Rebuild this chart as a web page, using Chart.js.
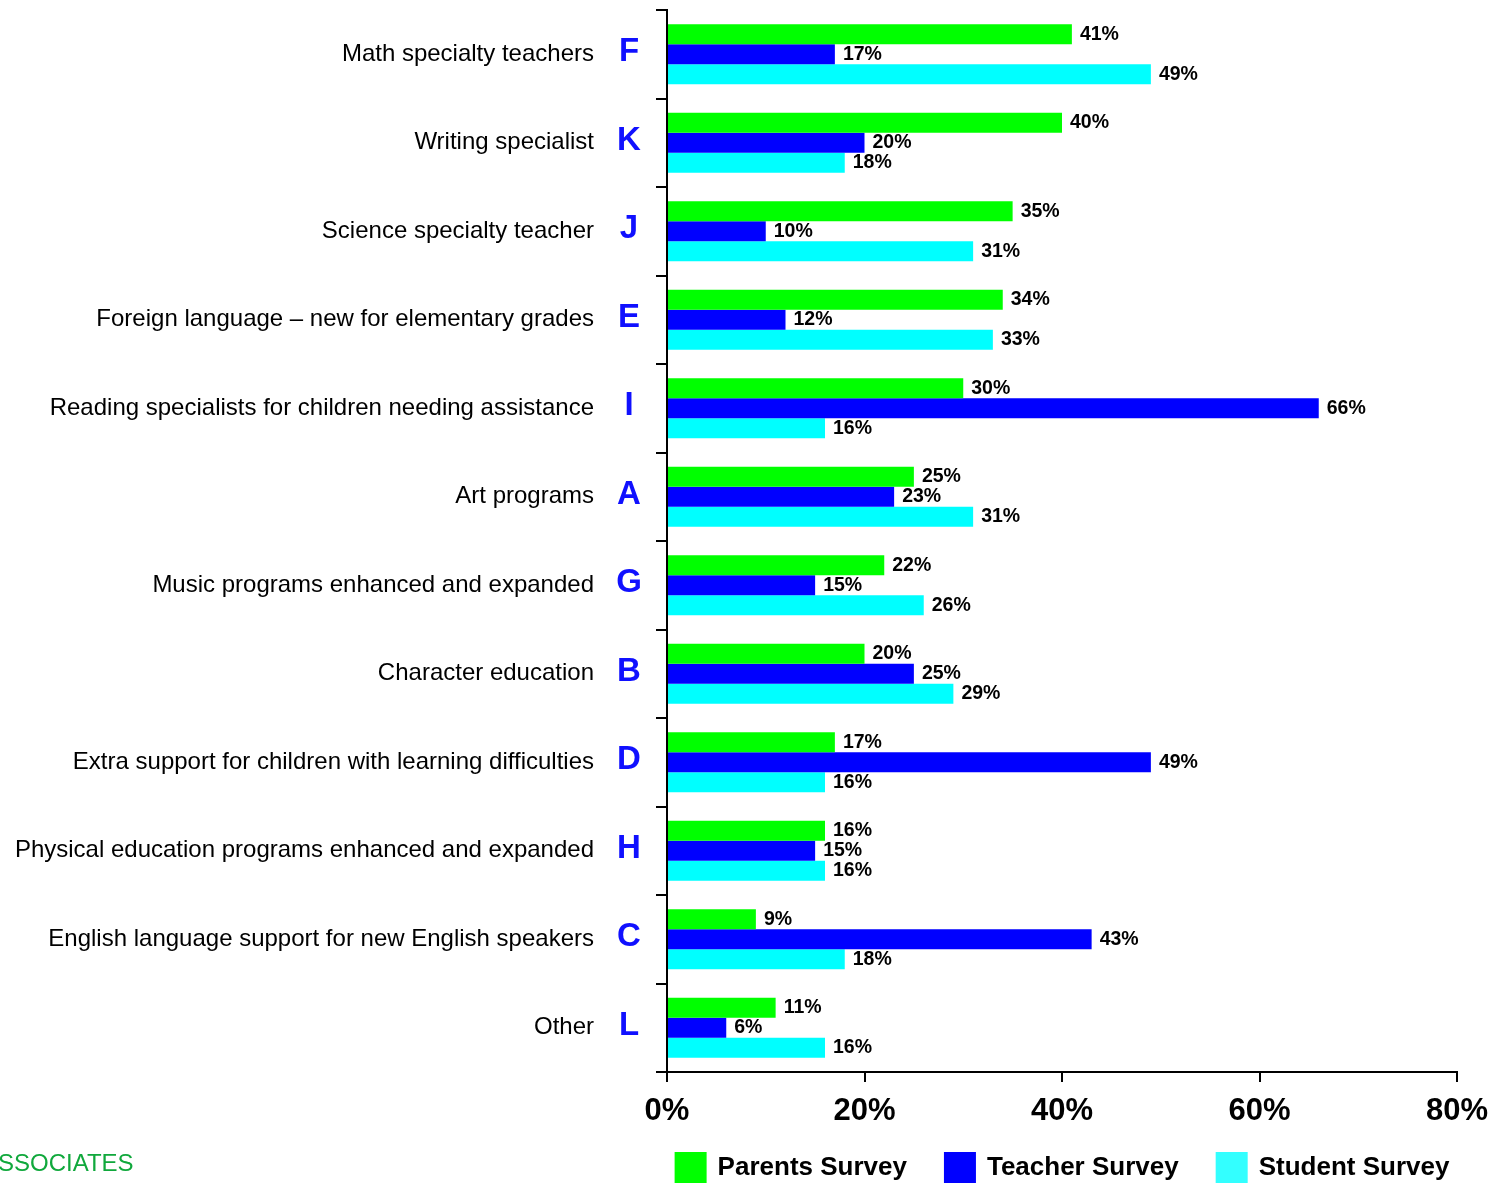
<!DOCTYPE html>
<html>
<head>
<meta charset="utf-8">
<script src="https://cdn.jsdelivr.net/npm/chart.js@4.4.1/dist/chart.umd.min.js"></script>
<style>
  html, body { margin: 0; padding: 0; background: #fff; }
  #wrap { width: 1507px; height: 1183px; }
</style>
</head>
<body>
<div id="wrap"><canvas id="surveyChart" width="1507" height="1183"></canvas></div>
<script>
const categories = [
    'Math specialty teachers',
    'Writing specialist',
    'Science specialty teacher',
    'Foreign language \u2013 new for elementary grades',
    'Reading specialists for children needing assistance',
    'Art programs',
    'Music programs enhanced and expanded',
    'Character education',
    'Extra support for children with learning difficulties',
    'Physical education programs enhanced and expanded',
    'English language support for new English speakers',
    'Other'
];
const codes = ['F', 'K', 'J', 'E', 'I', 'A', 'G', 'B', 'D', 'H', 'C', 'L'];
const seriesNames = ['Parents Survey', 'Teacher Survey', 'Student Survey'];
const parentsValues = [41, 40, 35, 34, 30, 25, 22, 20, 17, 16, 9, 11];
const teacherValues = [17, 20, 10, 12, 66, 23, 15, 25, 49, 15, 43, 6];
const studentValues = [49, 18, 31, 33, 16, 31, 26, 29, 16, 16, 18, 16];
const xTicks = [0, 20, 40, 60, 80];

const FONT = "'Liberation Sans', Arial, sans-serif";
Chart.defaults.font.family = FONT;

// blue letter codes next to the category names
const codeLetters = {
    id: 'codeLetters',
    afterDraw(chart) {
        const ctx = chart.ctx;
        const y = chart.scales.y;
        ctx.save();
        ctx.font = 'bold 33px ' + FONT;
        ctx.fillStyle = '#1010ff';
        ctx.textAlign = 'center';
        ctx.textBaseline = 'middle';
        codes.forEach((c, i) => {
            ctx.fillText(c, chart.chartArea.left - 38, y.getPixelForValue(i) - 2);
        });
        ctx.restore();
    }
};

// value labels at the end of each bar
const barValues = {
    id: 'barValues',
    afterDatasetsDraw(chart) {
        const ctx = chart.ctx;
        ctx.save();
        ctx.font = 'bold 19.5px ' + FONT;
        ctx.fillStyle = '#000';
        ctx.textAlign = 'left';
        ctx.textBaseline = 'middle';
        chart.data.datasets.forEach((ds, di) => {
            chart.getDatasetMeta(di).data.forEach((bar, i) => {
                ctx.fillText(ds.data[i] + '%', bar.x + 8, bar.y);
            });
        });
        ctx.restore();
    }
};

// legend under the axis, centred on the plot area
const bottomLegend = {
    id: 'bottomLegend',
    afterDraw(chart) {
        const ctx = chart.ctx;
        const area = chart.chartArea;
        const box = 32, gap = 11, spacing = 37;
        ctx.save();
        ctx.font = 'bold 26px ' + FONT;
        const widths = chart.data.datasets.map(ds => box + gap + ctx.measureText(ds.label).width);
        const total = widths.reduce((a, b) => a + b, 0) + spacing * (widths.length - 1);
        let x = (area.left + area.right) / 2 - total / 2;
        const top = area.bottom + 80;
        ctx.textBaseline = 'middle';
        ctx.textAlign = 'left';
        chart.data.datasets.forEach((ds, i) => {
            ctx.fillStyle = ds.legendColor;
            ctx.fillRect(x, top, box, box);
            ctx.fillStyle = '#000';
            ctx.fillText(ds.label, x + box + gap, top + box / 2);
            x += widths[i] + spacing;
        });
        ctx.restore();
    }
};

// clipped footer text bottom left
const footer = {
    id: 'footer',
    afterDraw(chart) {
        const ctx = chart.ctx;
        ctx.save();
        ctx.font = '24px ' + FONT;
        ctx.fillStyle = '#10a83c';
        ctx.textAlign = 'left';
        ctx.textBaseline = 'alphabetic';
        ctx.fillText('SSOCIATES', -2, 1171);
        ctx.restore();
    }
};

new Chart(document.getElementById('surveyChart').getContext('2d'), {
    type: 'bar',
    data: {
        labels: categories,
        datasets: [
            { label: seriesNames[0], data: parentsValues, backgroundColor: '#00ff00', legendColor: '#00ff00' },
            { label: seriesNames[1], data: teacherValues, backgroundColor: '#0000ff', legendColor: '#0000ff' },
            { label: seriesNames[2], data: studentValues, backgroundColor: '#00ffff', legendColor: '#33ffff' }
        ]
    },
    options: {
        indexAxis: 'y',
        responsive: false,
        animation: false,
        layout: { padding: { top: 10, right: 50, bottom: 0, left: 0 } },
        datasets: {
            bar: { categoryPercentage: 0.68, barPercentage: 1.0, borderWidth: 0 }
        },
        plugins: {
            legend: { display: false },
            tooltip: { enabled: false }
        },
        scales: {
            y: {
                offset: true,
                grid: {
                    offset: true,
                    drawOnChartArea: false,
                    drawTicks: true,
                    tickLength: 11,
                    color: '#000',
                    lineWidth: 2
                },
                border: { display: true, color: '#000', width: 2 },
                ticks: {
                    color: '#000',
                    padding: 62,
                    font: { size: 24 }
                },
                afterFit(scale) {
                    scale.width = 667;
                    scale.paddingTop = 0;
                    scale.paddingBottom = 0;
                }
            },
            x: {
                min: 0,
                max: 80,
                grid: {
                    drawOnChartArea: false,
                    drawTicks: true,
                    tickLength: 10,
                    color: '#000',
                    lineWidth: 2
                },
                border: { display: true, color: '#000', width: 2 },
                afterBuildTicks(scale) {
                    scale.ticks = xTicks.map(v => ({ value: v }));
                },
                ticks: {
                    color: '#000',
                    padding: 11,
                    maxRotation: 0,
                    font: { size: 31, weight: 'bold' },
                    callback: v => v + '%'
                },
                afterFit(scale) {
                    scale.height = 111;
                }
            }
        }
    },
    plugins: [codeLetters, barValues, bottomLegend, footer]
});
</script>
</body>
</html>
